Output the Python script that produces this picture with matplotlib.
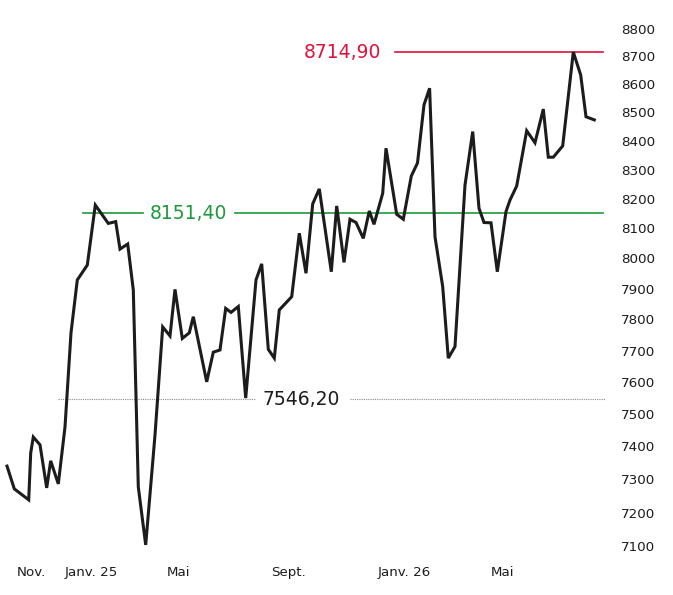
import matplotlib
matplotlib.use("Agg")
import matplotlib.pyplot as plt
from matplotlib.ticker import FixedLocator, NullLocator

# position along the time axis and closing level
t = [7, 14.3, 28.7, 30.7, 33.3, 40, 46.7, 50.7, 58.3, 65, 71, 77.3, 87.3, 95.3,
     108.3, 115.7, 120, 127.7, 133.3, 138.3, 145.7, 155, 162.7, 170, 175, 182.3,
     189.3, 193.3, 206.7, 213.3, 220, 225.7, 231, 238.3, 245.7, 256, 261.7, 268.3,
     274.3, 279.3, 291.7, 299.3, 306, 312.7, 319.3, 331.3, 336.7, 344, 350, 356,
     363.3, 369.3, 374, 382.7, 386, 396.7, 403.3, 411.3, 417.5, 424, 429.6, 435,
     442.7, 448.3, 455, 465, 472.7, 479, 484, 491, 497.3, 506, 510, 516.7, 526.7,
     535, 543.3, 548.3, 553.3, 562.7, 573.3, 580.7, 586, 594.3]
price = [7340, 7271, 7238, 7380, 7429, 7405, 7274, 7356, 7286, 7460, 7757, 7929,
         7978, 8179, 8117, 8123, 8031, 8048, 7896, 7277, 7104, 7435, 7776, 7747,
         7898, 7739, 7757, 7809, 7601, 7695, 7702, 7836, 7823, 7842, 7550, 7929,
         7982, 7704, 7676, 7831, 7874, 8084, 7951, 8183, 8234, 7956, 8176, 7987,
         8131, 8120, 8067, 8159, 8114, 8219, 8374, 8148, 8131, 8278, 8323, 8526,
         8585, 8072, 7907, 7676, 7713, 8247, 8432, 8168, 8120, 8119, 7956, 8157,
         8196, 8244, 8435, 8393, 8511, 8343, 8343, 8382, 8714.9, 8632, 8484, 8473]

month_pos = [31, 91, 178, 289, 404, 502]
month_labels = ["Nov.", "Janv. 25", "Mai", "Sept.", "Janv. 26", "Mai"]
y_ticks = list(range(7100, 8900, 100))

high_val, high_txt = 8714.90, "8714,90"
avg_val, avg_txt = 8151.40, "8151,40"
low_val, low_txt = 7546.20, "7546,20"

RED = "#e3103c"
GREEN = "#1c9a3b"
INK = "#1c1c1c"

plt.rcParams['font.family'] = ['DejaVu Sans']

fig = plt.figure(figsize=(6.73, 5.95), dpi=100)
ax = fig.add_axes([0, 35 / 595, 610 / 673, 550 / 595])
ax.set_yscale('log')
ax.set_xlim(0, 610)
ax.set_ylim(7059.7, 8868)

# reference levels, split around their labels
ax.plot([395, 603], [high_val] * 2, color=RED, lw=1.2)
ax.text(381, high_val, high_txt, color=RED, fontsize=13.5, ha='right', va='center')

ax.plot([83, 143], [avg_val] * 2, color=GREEN, lw=1.2)
ax.plot([235, 603], [avg_val] * 2, color=GREEN, lw=1.2)
ax.text(188, avg_val, avg_txt, color=GREEN, fontsize=13.5, ha='center', va='center')

ax.plot([58, 255], [low_val] * 2, color="#8a8a8a", lw=0.8, ls=(0, (1, 1)))
ax.plot([350, 605], [low_val] * 2, color="#8a8a8a", lw=0.8, ls=(0, (1, 1)))
ax.text(301.5, low_val, low_txt, color=INK, fontsize=13.5, ha='center', va='center')

ax.plot(t, price, color=INK, lw=2.2, solid_joinstyle='miter')

for s in ax.spines.values():
    s.set_visible(False)

ax.yaxis.tick_right()
ax.yaxis.set_major_locator(FixedLocator(y_ticks))
ax.yaxis.set_minor_locator(NullLocator())
ax.set_yticklabels([str(v) for v in y_ticks])
ax.tick_params(axis='y', length=0, pad=8, labelsize=9.7, labelcolor=INK)

ax.set_xticks(month_pos)
ax.set_xticklabels(month_labels)
ax.tick_params(axis='x', length=0, pad=4, labelsize=9.6, labelcolor=INK)

fig.savefig("out.png", dpi=100)
